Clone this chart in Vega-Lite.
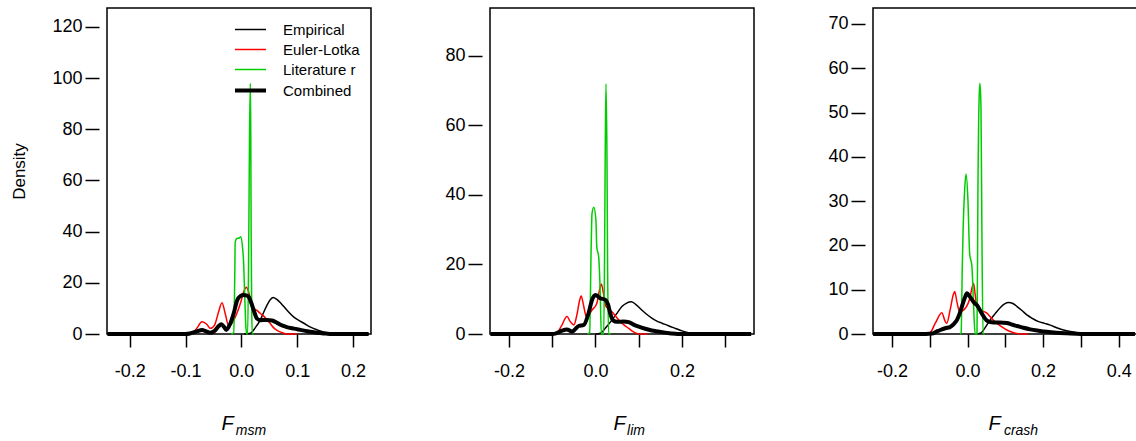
{
  "$schema": "https://vega.github.io/schema/vega-lite/v6.json",
  "padding": {"left": 10, "top": 7, "right": 0, "bottom": 0},
  "background": "white",
  "spacing": 119,
  "bounds": "flush",
  "datasets": {
    "p1": [
      {"s": "Empirical", "x": 0.005, "y": 0}, {"s": "Empirical", "x": 0.016, "y": 0.3}, {"s": "Empirical", "x": 0.025, "y": 2.5}, {"s": "Empirical", "x": 0.034, "y": 5.5}, {"s": "Empirical", "x": 0.04, "y": 8.5}, {"s": "Empirical", "x": 0.046, "y": 11.3}, {"s": "Empirical", "x": 0.052, "y": 13.5}, {"s": "Empirical", "x": 0.057, "y": 14.3}, {"s": "Empirical", "x": 0.063, "y": 13.6}, {"s": "Empirical", "x": 0.07, "y": 12.2}, {"s": "Empirical", "x": 0.076, "y": 10.7}, {"s": "Empirical", "x": 0.085, "y": 8.5}, {"s": "Empirical", "x": 0.094, "y": 6.6}, {"s": "Empirical", "x": 0.103, "y": 5.3}, {"s": "Empirical", "x": 0.112, "y": 4.2}, {"s": "Empirical", "x": 0.121, "y": 3.0}, {"s": "Empirical", "x": 0.13, "y": 2.1}, {"s": "Empirical", "x": 0.14, "y": 1.3}, {"s": "Empirical", "x": 0.15, "y": 0.6}, {"s": "Empirical", "x": 0.16, "y": 0.2}, {"s": "Empirical", "x": 0.172, "y": 0}, {"s": "Empirical", "x": 0.228, "y": 0},
      {"s": "Euler-Lotka", "x": -0.1, "y": 0}, {"s": "Euler-Lotka", "x": -0.088, "y": 0.3}, {"s": "Euler-Lotka", "x": -0.08, "y": 2.2}, {"s": "Euler-Lotka", "x": -0.0705, "y": 4.8}, {"s": "Euler-Lotka", "x": -0.062, "y": 3.8}, {"s": "Euler-Lotka", "x": -0.0556, "y": 2.2}, {"s": "Euler-Lotka", "x": -0.048, "y": 3.5}, {"s": "Euler-Lotka", "x": -0.041, "y": 8.5}, {"s": "Euler-Lotka", "x": -0.0347, "y": 12.2}, {"s": "Euler-Lotka", "x": -0.029, "y": 8}, {"s": "Euler-Lotka", "x": -0.0227, "y": 3.2}, {"s": "Euler-Lotka", "x": -0.016, "y": 4.5}, {"s": "Euler-Lotka", "x": -0.008, "y": 8.1}, {"s": "Euler-Lotka", "x": -0.001, "y": 12.5}, {"s": "Euler-Lotka", "x": 0.005, "y": 17}, {"s": "Euler-Lotka", "x": 0.009, "y": 18.3}, {"s": "Euler-Lotka", "x": 0.013, "y": 16.5}, {"s": "Euler-Lotka", "x": 0.018, "y": 12}, {"s": "Euler-Lotka", "x": 0.022, "y": 10}, {"s": "Euler-Lotka", "x": 0.028, "y": 9.2}, {"s": "Euler-Lotka", "x": 0.034, "y": 8}, {"s": "Euler-Lotka", "x": 0.04, "y": 7.0}, {"s": "Euler-Lotka", "x": 0.046, "y": 5.6}, {"s": "Euler-Lotka", "x": 0.052, "y": 4.0}, {"s": "Euler-Lotka", "x": 0.058, "y": 2.4}, {"s": "Euler-Lotka", "x": 0.064, "y": 1.4}, {"s": "Euler-Lotka", "x": 0.072, "y": 0.6}, {"s": "Euler-Lotka", "x": 0.082, "y": 0}, {"s": "Euler-Lotka", "x": 0.1, "y": 0},
      {"s": "Literature r", "x": -0.018, "y": 0}, {"s": "Literature r", "x": -0.0137, "y": 0.5}, {"s": "Literature r", "x": -0.012, "y": 20}, {"s": "Literature r", "x": -0.011, "y": 36}, {"s": "Literature r", "x": -0.008, "y": 37.3}, {"s": "Literature r", "x": -0.004, "y": 37.5}, {"s": "Literature r", "x": -0.001, "y": 38}, {"s": "Literature r", "x": 0.002, "y": 34}, {"s": "Literature r", "x": 0.004, "y": 28}, {"s": "Literature r", "x": 0.006, "y": 15}, {"s": "Literature r", "x": 0.008, "y": 3}, {"s": "Literature r", "x": 0.0095, "y": 0}, {"s": "Literature r", "x": 0.0112, "y": 0}, {"s": "Literature r", "x": 0.013, "y": 30}, {"s": "Literature r", "x": 0.0145, "y": 75}, {"s": "Literature r", "x": 0.016, "y": 98}, {"s": "Literature r", "x": 0.0168, "y": 80}, {"s": "Literature r", "x": 0.0175, "y": 40}, {"s": "Literature r", "x": 0.0185, "y": 10}, {"s": "Literature r", "x": 0.0195, "y": 0}, {"s": "Literature r", "x": 0.022, "y": 0},
      {"s": "Combined", "x": -0.24, "y": 0}, {"s": "Combined", "x": -0.1, "y": 0}, {"s": "Combined", "x": -0.092, "y": 0.2}, {"s": "Combined", "x": -0.08, "y": 1.0}, {"s": "Combined", "x": -0.0705, "y": 1.6}, {"s": "Combined", "x": -0.063, "y": 1.0}, {"s": "Combined", "x": -0.056, "y": 0.5}, {"s": "Combined", "x": -0.048, "y": 1.2}, {"s": "Combined", "x": -0.041, "y": 3.0}, {"s": "Combined", "x": -0.036, "y": 3.8}, {"s": "Combined", "x": -0.031, "y": 2.8}, {"s": "Combined", "x": -0.027, "y": 1.6}, {"s": "Combined", "x": -0.02, "y": 4.0}, {"s": "Combined", "x": -0.0137, "y": 8.1}, {"s": "Combined", "x": -0.0078, "y": 13.0}, {"s": "Combined", "x": -0.002, "y": 14.8}, {"s": "Combined", "x": 0.004, "y": 15.2}, {"s": "Combined", "x": 0.01, "y": 15.0}, {"s": "Combined", "x": 0.014, "y": 14.2}, {"s": "Combined", "x": 0.018, "y": 12}, {"s": "Combined", "x": 0.022, "y": 9.4}, {"s": "Combined", "x": 0.028, "y": 6.0}, {"s": "Combined", "x": 0.034, "y": 5.4}, {"s": "Combined", "x": 0.045, "y": 5.5}, {"s": "Combined", "x": 0.055, "y": 5.3}, {"s": "Combined", "x": 0.063, "y": 4.5}, {"s": "Combined", "x": 0.07, "y": 3.6}, {"s": "Combined", "x": 0.08, "y": 2.8}, {"s": "Combined", "x": 0.094, "y": 2.1}, {"s": "Combined", "x": 0.106, "y": 1.6}, {"s": "Combined", "x": 0.118, "y": 1.1}, {"s": "Combined", "x": 0.13, "y": 0.7}, {"s": "Combined", "x": 0.141, "y": 0.4}, {"s": "Combined", "x": 0.152, "y": 0.15}, {"s": "Combined", "x": 0.162, "y": 0}, {"s": "Combined", "x": 0.228, "y": 0}
    ],
    "p2": [
      {"s": "Empirical", "x": 0.0, "y": 0}, {"s": "Empirical", "x": 0.011, "y": 0.2}, {"s": "Empirical", "x": 0.025, "y": 2.0}, {"s": "Empirical", "x": 0.038, "y": 4.0}, {"s": "Empirical", "x": 0.05, "y": 6.0}, {"s": "Empirical", "x": 0.061, "y": 7.9}, {"s": "Empirical", "x": 0.072, "y": 8.9}, {"s": "Empirical", "x": 0.083, "y": 9.3}, {"s": "Empirical", "x": 0.095, "y": 8.3}, {"s": "Empirical", "x": 0.107, "y": 6.9}, {"s": "Empirical", "x": 0.119, "y": 5.6}, {"s": "Empirical", "x": 0.131, "y": 4.5}, {"s": "Empirical", "x": 0.142, "y": 3.7}, {"s": "Empirical", "x": 0.154, "y": 3.1}, {"s": "Empirical", "x": 0.17, "y": 2.3}, {"s": "Empirical", "x": 0.185, "y": 1.6}, {"s": "Empirical", "x": 0.2, "y": 0.9}, {"s": "Empirical", "x": 0.215, "y": 0.4}, {"s": "Empirical", "x": 0.23, "y": 0.1}, {"s": "Empirical", "x": 0.24, "y": 0}, {"s": "Empirical", "x": 0.34, "y": 0},
      {"s": "Euler-Lotka", "x": -0.1, "y": 0}, {"s": "Euler-Lotka", "x": -0.089, "y": 0.3}, {"s": "Euler-Lotka", "x": -0.078, "y": 2.5}, {"s": "Euler-Lotka", "x": -0.066, "y": 5.0}, {"s": "Euler-Lotka", "x": -0.058, "y": 3.5}, {"s": "Euler-Lotka", "x": -0.05, "y": 2.6}, {"s": "Euler-Lotka", "x": -0.043, "y": 5.5}, {"s": "Euler-Lotka", "x": -0.037, "y": 9.5}, {"s": "Euler-Lotka", "x": -0.033, "y": 10.9}, {"s": "Euler-Lotka", "x": -0.028, "y": 8.5}, {"s": "Euler-Lotka", "x": -0.021, "y": 5.0}, {"s": "Euler-Lotka", "x": -0.015, "y": 5.5}, {"s": "Euler-Lotka", "x": -0.008, "y": 6.9}, {"s": "Euler-Lotka", "x": 0.003, "y": 8.8}, {"s": "Euler-Lotka", "x": 0.009, "y": 12.5}, {"s": "Euler-Lotka", "x": 0.0135, "y": 14.4}, {"s": "Euler-Lotka", "x": 0.018, "y": 12}, {"s": "Euler-Lotka", "x": 0.023, "y": 8.3}, {"s": "Euler-Lotka", "x": 0.03, "y": 7.2}, {"s": "Euler-Lotka", "x": 0.038, "y": 6.4}, {"s": "Euler-Lotka", "x": 0.046, "y": 5.2}, {"s": "Euler-Lotka", "x": 0.054, "y": 4.0}, {"s": "Euler-Lotka", "x": 0.065, "y": 2.7}, {"s": "Euler-Lotka", "x": 0.077, "y": 1.6}, {"s": "Euler-Lotka", "x": 0.088, "y": 0.6}, {"s": "Euler-Lotka", "x": 0.1, "y": 0}, {"s": "Euler-Lotka", "x": 0.12, "y": 0},
      {"s": "Literature r", "x": -0.018, "y": 0}, {"s": "Literature r", "x": -0.0135, "y": 0.5}, {"s": "Literature r", "x": -0.01, "y": 25}, {"s": "Literature r", "x": -0.008, "y": 34.7}, {"s": "Literature r", "x": -0.004, "y": 36.5}, {"s": "Literature r", "x": 0.001, "y": 32.8}, {"s": "Literature r", "x": 0.003, "y": 25}, {"s": "Literature r", "x": 0.0074, "y": 22.2}, {"s": "Literature r", "x": 0.011, "y": 11.7}, {"s": "Literature r", "x": 0.0135, "y": 0}, {"s": "Literature r", "x": 0.019, "y": 0}, {"s": "Literature r", "x": 0.021, "y": 23}, {"s": "Literature r", "x": 0.0227, "y": 55}, {"s": "Literature r", "x": 0.0243, "y": 72}, {"s": "Literature r", "x": 0.0266, "y": 50}, {"s": "Literature r", "x": 0.028, "y": 19}, {"s": "Literature r", "x": 0.0305, "y": 0}, {"s": "Literature r", "x": 0.035, "y": 0},
      {"s": "Combined", "x": -0.243, "y": 0}, {"s": "Combined", "x": -0.1, "y": 0}, {"s": "Combined", "x": -0.093, "y": 0.1}, {"s": "Combined", "x": -0.08, "y": 0.8}, {"s": "Combined", "x": -0.066, "y": 1.3}, {"s": "Combined", "x": -0.054, "y": 0.7}, {"s": "Combined", "x": -0.046, "y": 1.5}, {"s": "Combined", "x": -0.039, "y": 2.3}, {"s": "Combined", "x": -0.027, "y": 2.6}, {"s": "Combined", "x": -0.016, "y": 6.0}, {"s": "Combined", "x": -0.008, "y": 9.8}, {"s": "Combined", "x": 0.0, "y": 11.2}, {"s": "Combined", "x": 0.011, "y": 10.3}, {"s": "Combined", "x": 0.023, "y": 9.8}, {"s": "Combined", "x": 0.029, "y": 8.5}, {"s": "Combined", "x": 0.034, "y": 6.0}, {"s": "Combined", "x": 0.04, "y": 4.0}, {"s": "Combined", "x": 0.05, "y": 3.5}, {"s": "Combined", "x": 0.065, "y": 3.6}, {"s": "Combined", "x": 0.077, "y": 3.4}, {"s": "Combined", "x": 0.088, "y": 2.7}, {"s": "Combined", "x": 0.1, "y": 2.1}, {"s": "Combined", "x": 0.115, "y": 1.5}, {"s": "Combined", "x": 0.13, "y": 1.0}, {"s": "Combined", "x": 0.145, "y": 0.7}, {"s": "Combined", "x": 0.161, "y": 0.4}, {"s": "Combined", "x": 0.175, "y": 0.15}, {"s": "Combined", "x": 0.19, "y": 0}, {"s": "Combined", "x": 0.36, "y": 0}
    ],
    "p3": [
      {"s": "Empirical", "x": 0.02, "y": 0}, {"s": "Empirical", "x": 0.034, "y": 0.2}, {"s": "Empirical", "x": 0.047, "y": 1.5}, {"s": "Empirical", "x": 0.06, "y": 3.2}, {"s": "Empirical", "x": 0.073, "y": 4.6}, {"s": "Empirical", "x": 0.087, "y": 6.0}, {"s": "Empirical", "x": 0.098, "y": 6.8}, {"s": "Empirical", "x": 0.109, "y": 7.1}, {"s": "Empirical", "x": 0.12, "y": 6.9}, {"s": "Empirical", "x": 0.131, "y": 6.2}, {"s": "Empirical", "x": 0.144, "y": 5.3}, {"s": "Empirical", "x": 0.157, "y": 4.3}, {"s": "Empirical", "x": 0.172, "y": 3.5}, {"s": "Empirical", "x": 0.188, "y": 2.8}, {"s": "Empirical", "x": 0.204, "y": 2.4}, {"s": "Empirical", "x": 0.219, "y": 2.0}, {"s": "Empirical", "x": 0.236, "y": 1.4}, {"s": "Empirical", "x": 0.254, "y": 0.9}, {"s": "Empirical", "x": 0.272, "y": 0.55}, {"s": "Empirical", "x": 0.29, "y": 0.3}, {"s": "Empirical", "x": 0.31, "y": 0.1}, {"s": "Empirical", "x": 0.325, "y": 0}, {"s": "Empirical", "x": 0.43, "y": 0},
      {"s": "Euler-Lotka", "x": -0.11, "y": 0}, {"s": "Euler-Lotka", "x": -0.099, "y": 0.3}, {"s": "Euler-Lotka", "x": -0.085, "y": 2.5}, {"s": "Euler-Lotka", "x": -0.068, "y": 4.8}, {"s": "Euler-Lotka", "x": -0.06, "y": 3.0}, {"s": "Euler-Lotka", "x": -0.055, "y": 2.4}, {"s": "Euler-Lotka", "x": -0.046, "y": 5.5}, {"s": "Euler-Lotka", "x": -0.038, "y": 8.8}, {"s": "Euler-Lotka", "x": -0.034, "y": 9.6}, {"s": "Euler-Lotka", "x": -0.028, "y": 7.2}, {"s": "Euler-Lotka", "x": -0.021, "y": 5.0}, {"s": "Euler-Lotka", "x": -0.006, "y": 5.8}, {"s": "Euler-Lotka", "x": 0.007, "y": 8.4}, {"s": "Euler-Lotka", "x": 0.012, "y": 10.5}, {"s": "Euler-Lotka", "x": 0.016, "y": 11.4}, {"s": "Euler-Lotka", "x": 0.02, "y": 9}, {"s": "Euler-Lotka", "x": 0.025, "y": 6.2}, {"s": "Euler-Lotka", "x": 0.038, "y": 5.3}, {"s": "Euler-Lotka", "x": 0.051, "y": 4.7}, {"s": "Euler-Lotka", "x": 0.064, "y": 3.5}, {"s": "Euler-Lotka", "x": 0.078, "y": 2.4}, {"s": "Euler-Lotka", "x": 0.091, "y": 1.6}, {"s": "Euler-Lotka", "x": 0.104, "y": 0.9}, {"s": "Euler-Lotka", "x": 0.12, "y": 0.35}, {"s": "Euler-Lotka", "x": 0.14, "y": 0}, {"s": "Euler-Lotka", "x": 0.16, "y": 0},
      {"s": "Literature r", "x": -0.02, "y": 0}, {"s": "Literature r", "x": -0.017, "y": 0.3}, {"s": "Literature r", "x": -0.014, "y": 15}, {"s": "Literature r", "x": -0.012, "y": 22.7}, {"s": "Literature r", "x": -0.008, "y": 32}, {"s": "Literature r", "x": -0.004, "y": 36.1}, {"s": "Literature r", "x": 0.001, "y": 30.2}, {"s": "Literature r", "x": 0.0055, "y": 18.2}, {"s": "Literature r", "x": 0.0116, "y": 15.2}, {"s": "Literature r", "x": 0.016, "y": 6.2}, {"s": "Literature r", "x": 0.02, "y": 0}, {"s": "Literature r", "x": 0.025, "y": 0}, {"s": "Literature r", "x": 0.0275, "y": 33}, {"s": "Literature r", "x": 0.031, "y": 54.3}, {"s": "Literature r", "x": 0.0328, "y": 56.6}, {"s": "Literature r", "x": 0.0355, "y": 51.3}, {"s": "Literature r", "x": 0.038, "y": 22.7}, {"s": "Literature r", "x": 0.041, "y": 0}, {"s": "Literature r", "x": 0.045, "y": 0},
      {"s": "Combined", "x": -0.25, "y": 0}, {"s": "Combined", "x": -0.11, "y": 0}, {"s": "Combined", "x": -0.094, "y": 0.1}, {"s": "Combined", "x": -0.083, "y": 0.5}, {"s": "Combined", "x": -0.072, "y": 0.9}, {"s": "Combined", "x": -0.059, "y": 1.3}, {"s": "Combined", "x": -0.046, "y": 1.6}, {"s": "Combined", "x": -0.036, "y": 2.3}, {"s": "Combined", "x": -0.028, "y": 3.2}, {"s": "Combined", "x": -0.021, "y": 4.6}, {"s": "Combined", "x": -0.015, "y": 6.2}, {"s": "Combined", "x": -0.008, "y": 8.0}, {"s": "Combined", "x": -0.0015, "y": 9.2}, {"s": "Combined", "x": 0.005, "y": 8.6}, {"s": "Combined", "x": 0.012, "y": 7.7}, {"s": "Combined", "x": 0.018, "y": 7.0}, {"s": "Combined", "x": 0.025, "y": 6.5}, {"s": "Combined", "x": 0.034, "y": 5.2}, {"s": "Combined", "x": 0.043, "y": 3.9}, {"s": "Combined", "x": 0.05, "y": 3.1}, {"s": "Combined", "x": 0.056, "y": 2.8}, {"s": "Combined", "x": 0.07, "y": 2.6}, {"s": "Combined", "x": 0.085, "y": 2.6}, {"s": "Combined", "x": 0.104, "y": 2.5}, {"s": "Combined", "x": 0.118, "y": 2.1}, {"s": "Combined", "x": 0.131, "y": 1.8}, {"s": "Combined", "x": 0.148, "y": 1.4}, {"s": "Combined", "x": 0.166, "y": 1.05}, {"s": "Combined", "x": 0.188, "y": 0.75}, {"s": "Combined", "x": 0.21, "y": 0.5}, {"s": "Combined", "x": 0.235, "y": 0.3}, {"s": "Combined", "x": 0.263, "y": 0.15}, {"s": "Combined", "x": 0.3, "y": 0}, {"s": "Combined", "x": 0.443, "y": 0}
    ]
  },
  "hconcat": [
    {
      "width": 264, "height": 326,
      "data": {"name": "p1"},
      "title": {"text": "msm", "orient": "bottom", "anchor": "middle", "dx": 12, "offset": -9, "fontSize": 14, "fontStyle": "italic", "fontWeight": "normal", "font": "Liberation Sans", "color": "black"},
      "encoding": {
        "x": {"field": "x", "type": "quantitative", "scale": {"domain": [-0.2407, 0.2322], "nice": false, "zero": false},
          "axis": {"values": [-0.2, -0.1, 0, 0.1, 0.2], "labelExpr": "replace(format(datum.value, '.1f'), '\u2212', '-')", "tickSize": 13, "labelPadding": 15, "title": "F", "titleFontSize": 20, "titleFontStyle": "italic", "titlePadding": 33, "titleX": 120}},
        "y": {"field": "y", "type": "quantitative", "scale": {"domain": [0, 127.4], "nice": false},
          "axis": {"values": [0, 20, 40, 60, 80, 100, 120], "offset": 8, "tickSize": 14, "labelPadding": 3, "title": "Density", "titleFontSize": 17, "titlePadding": 23}},
        "color": {"field": "s", "type": "nominal",
          "scale": {"domain": ["Empirical", "Euler-Lotka", "Literature r", "Combined"], "range": ["#000000", "#FF0000", "#00CD00", "#000000"]},
          "legend": {"orient": "none", "legendX": 136, "legendY": 14, "title": null, "symbolType": "stroke", "symbolSize": 961, "labelFontSize": 15, "labelOffset": 25, "rowPadding": 4,
            "encode": {"symbols": {"update": {"strokeWidth": {"signal": "datum.value === 'Combined' ? 4 : 1.5"}}}}}}
      },
      "layer": [
        {"transform": [{"filter": "datum.s === 'Empirical'"}], "mark": {"type": "line", "interpolate": "monotone", "strokeWidth": 1.5}},
        {"transform": [{"filter": "datum.s === 'Euler-Lotka'"}], "mark": {"type": "line", "interpolate": "monotone", "strokeWidth": 1.5}},
        {"transform": [{"filter": "datum.s === 'Literature r'"}], "mark": {"type": "line", "interpolate": "monotone", "strokeWidth": 1.5}},
        {"transform": [{"filter": "datum.s === 'Combined'"}], "mark": {"type": "line", "interpolate": "monotone", "strokeWidth": 4}}
      ]
    },
    {
      "width": 264, "height": 326,
      "data": {"name": "p2"},
      "title": {"text": "lim", "orient": "bottom", "anchor": "middle", "dx": 14, "offset": -9, "fontSize": 14, "fontStyle": "italic", "fontWeight": "normal", "font": "Liberation Sans", "color": "black"},
      "encoding": {
        "x": {"field": "x", "type": "quantitative", "scale": {"domain": [-0.2439, 0.3665], "nice": false, "zero": false},
          "axis": {"values": [-0.2, -0.1, 0, 0.1, 0.2, 0.3], "labelExpr": "abs(round(datum.value*10)) % 2 == 0 ? replace(format(datum.value, '.1f'), '\u2212', '-') : ''", "tickSize": 13, "labelPadding": 15, "title": "F", "titleFontSize": 20, "titleFontStyle": "italic", "titlePadding": 33, "titleX": 129}},
        "y": {"field": "y", "type": "quantitative", "scale": {"domain": [0, 93.8], "nice": false},
          "axis": {"values": [0, 20, 40, 60, 80], "offset": 8, "tickSize": 14, "labelPadding": 3, "title": null}},
        "color": {"field": "s", "type": "nominal",
          "scale": {"domain": ["Empirical", "Euler-Lotka", "Literature r", "Combined"], "range": ["#000000", "#FF0000", "#00CD00", "#000000"]},
          "legend": null}
      },
      "layer": [
        {"transform": [{"filter": "datum.s === 'Empirical'"}], "mark": {"type": "line", "interpolate": "monotone", "strokeWidth": 1.5}},
        {"transform": [{"filter": "datum.s === 'Euler-Lotka'"}], "mark": {"type": "line", "interpolate": "monotone", "strokeWidth": 1.5}},
        {"transform": [{"filter": "datum.s === 'Literature r'"}], "mark": {"type": "line", "interpolate": "monotone", "strokeWidth": 1.5}},
        {"transform": [{"filter": "datum.s === 'Combined'"}], "mark": {"type": "line", "interpolate": "monotone", "strokeWidth": 4}}
      ]
    },
    {
      "width": 264, "height": 326,
      "data": {"name": "p3"},
      "title": {"text": "crash", "orient": "bottom", "anchor": "middle", "dx": 16, "offset": -9, "fontSize": 14, "fontStyle": "italic", "fontWeight": "normal", "font": "Liberation Sans", "color": "black"},
      "encoding": {
        "x": {"field": "x", "type": "quantitative", "scale": {"domain": [-0.2503, 0.4485], "nice": false, "zero": false},
          "axis": {"values": [-0.2, -0.1, 0, 0.1, 0.2, 0.3, 0.4], "labelExpr": "abs(round(datum.value*10)) % 2 == 0 ? replace(format(datum.value, '.1f'), '\u2212', '-') : ''", "tickSize": 13, "labelPadding": 15, "title": "F", "titleFontSize": 20, "titleFontStyle": "italic", "titlePadding": 33, "titleX": 121}},
        "y": {"field": "y", "type": "quantitative", "scale": {"domain": [0, 73.6], "nice": false},
          "axis": {"values": [0, 10, 20, 30, 40, 50, 60, 70], "offset": 8, "tickSize": 14, "labelPadding": 3, "title": null}},
        "color": {"field": "s", "type": "nominal",
          "scale": {"domain": ["Empirical", "Euler-Lotka", "Literature r", "Combined"], "range": ["#000000", "#FF0000", "#00CD00", "#000000"]},
          "legend": null}
      },
      "layer": [
        {"transform": [{"filter": "datum.s === 'Empirical'"}], "mark": {"type": "line", "interpolate": "monotone", "strokeWidth": 1.5}},
        {"transform": [{"filter": "datum.s === 'Euler-Lotka'"}], "mark": {"type": "line", "interpolate": "monotone", "strokeWidth": 1.5}},
        {"transform": [{"filter": "datum.s === 'Literature r'"}], "mark": {"type": "line", "interpolate": "monotone", "strokeWidth": 1.5}},
        {"transform": [{"filter": "datum.s === 'Combined'"}], "mark": {"type": "line", "interpolate": "monotone", "strokeWidth": 4}}
      ]
    }
  ],
  "resolve": {"scale": {"x": "independent", "y": "independent", "color": "independent"}, "legend": {"color": "independent"}},
  "config": {
    "font": "Liberation Sans",
    "view": {"stroke": "#000000", "strokeWidth": 1.5},
    "axis": {"domain": false, "grid": false, "tickColor": "#000000", "tickWidth": 1.5, "labelColor": "#000000", "labelFont": "Liberation Sans", "labelFontSize": 18, "titleFont": "Liberation Sans", "titleColor": "#000000", "titleFontWeight": "normal", "labelOverlap": false, "labelFlush": false},
    "legend": {"labelFont": "Liberation Sans", "labelColor": "#000000"}
  }
}
